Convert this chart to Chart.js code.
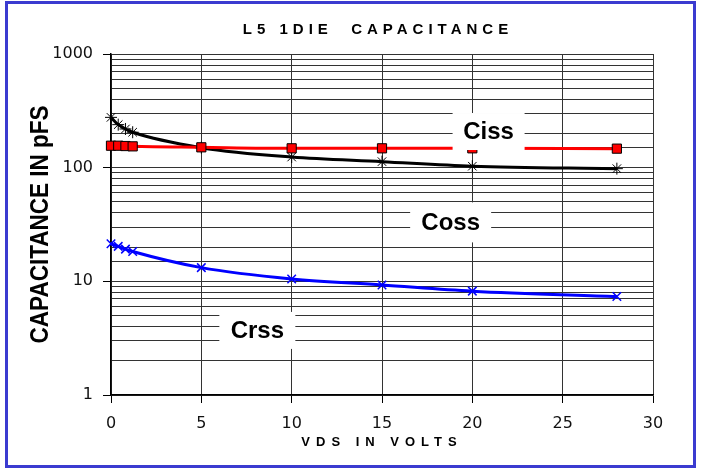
<!DOCTYPE html>
<html>
<head>
<meta charset="utf-8">
<script src="https://cdn.jsdelivr.net/npm/chart.js@4.4.1/dist/chart.umd.min.js"></script>
<style>
  html, body { margin: 0; padding: 0; background: #fff; }
  #wrap { width: 701px; height: 472px; }
</style>
</head>
<body>
<div id="wrap"><canvas id="cap-chart" width="701" height="472"></canvas></div>
<script>
// values
var vds = [0, 0.4, 0.8, 1.2, 5, 10, 15, 20, 28];
var ciss = [156, 156, 155, 154, 151, 148, 148, 148, 147];
var coss = [277, 239, 219, 205, 150, 124, 113, 103, 98];
var crss = [21.4, 20.3, 19.2, 18.3, 13.2, 10.5, 9.3, 8.2, 7.35];
var xTicks = [0, 5, 10, 15, 20, 25, 30];
var yLabels = [1, 10, 100, 1000];

var chartTitle = 'L5 1DIE  CAPACITANCE';
var xTitle = 'VDS IN VOLTS';
var yTitle = 'CAPACITANCE IN pFS';

// series name boxes, placed in data coordinates
var tags = [
	{ text: 'Ciss', x: 20.9, y: 208, w: 72, h: 37 },
	{ text: 'Coss', x: 18.8, y: 33, w: 81, h: 40 },
	{ text: 'Crss', x: 8.1, y: 3.7, w: 76, h: 37 },
];

function pts(ys) {
	return vds.map((v, i) => ({ x: v, y: ys[i] }));
}

var decorations = {
	id: 'decorations',
	beforeDraw(chart) {
		var c = chart.ctx;
		c.save();
		c.fillStyle = '#fff';
		c.fillRect(0, 0, chart.width, chart.height);
		c.restore();
	},
	afterDatasetsDraw(chart) {
		var c = chart.ctx;
		var sx = chart.scales.x, sy = chart.scales.y;
		c.save();
		c.font = 'bold 24px "Liberation Sans", Arial, sans-serif';
		c.textAlign = 'center';
		c.textBaseline = 'middle';
		tags.forEach(t => {
			var px = sx.getPixelForValue(t.x), py = sy.getPixelForValue(t.y);
			c.fillStyle = '#fff';
			c.fillRect(px - t.w / 2, py - t.h / 2, t.w, t.h);
			c.fillStyle = '#000';
			c.fillText(t.text, px, py + 1);
		});
		c.restore();
	},
	afterDraw(chart) {
		var c = chart.ctx;
		var a = chart.chartArea;
		var mid = (a.left + a.right) / 2;
		c.save();
		c.fillStyle = '#000';
		c.textAlign = 'center';
		c.textBaseline = 'middle';
		c.letterSpacing = '5px';
		c.font = 'bold 15px "Liberation Sans", Arial, sans-serif';
		c.fillText(chartTitle, mid - 4, 30);
		c.letterSpacing = '6px';
		c.font = 'bold 13px "Liberation Sans", Arial, sans-serif';
		c.fillText(xTitle, mid, 442);
		c.letterSpacing = '0px';
		c.translate(41, (a.top + a.bottom) / 2);
		c.rotate(-Math.PI / 2);
		c.scale(0.9, 1);
		c.font = 'bold 25px "Liberation Sans", Arial, sans-serif';
		c.fillText(yTitle, 0, 0);
		c.restore();

		// blue frame round the whole picture
		c.save();
		c.strokeStyle = '#3b3bd0';
		c.lineWidth = 3;
		c.strokeRect(6.5, 2.5, 688, 464);
		c.restore();
	}
};

new Chart(document.getElementById('cap-chart'), {
	type: 'line',
	data: {
		datasets: [{
			label: 'Ciss',
			data: pts(ciss),
			borderColor: '#ff0000',
			borderWidth: 3,
			pointStyle: 'rect',
			pointRadius: 6.5,
			pointBackgroundColor: '#ff0000',
			pointBorderColor: '#000',
			pointBorderWidth: 1,
			cubicInterpolationMode: 'monotone',
			clip: false,
		}, {
			label: 'Coss',
			data: pts(coss),
			borderColor: '#000',
			borderWidth: 3,
			pointStyle: 'star',
			pointRadius: 6,
			pointBorderColor: '#000',
			pointBorderWidth: 1,
			cubicInterpolationMode: 'monotone',
			clip: false,
		}, {
			label: 'Crss',
			data: pts(crss),
			borderColor: '#0000ff',
			borderWidth: 3,
			pointStyle: 'crossRot',
			pointRadius: 6,
			pointBorderColor: '#0000ff',
			pointBorderWidth: 1.5,
			cubicInterpolationMode: 'monotone',
			clip: false,
		}],
	},
	options: {
		responsive: false,
		animation: false,
		events: [],
		layout: {
			padding: { top: 54, right: 48, left: 0, bottom: 0 }
		},
		plugins: {
			legend: { display: false },
			tooltip: { enabled: false },
			title: { display: false },
		},
		scales: {
			x: {
				type: 'linear',
				min: 0,
				max: 30,
				afterFit: s => { s.height = 77; },
				afterBuildTicks: s => { s.ticks = xTicks.map(v => ({ value: v })); },
				ticks: {
					color: '#111',
					font: { family: '"DejaVu Sans", sans-serif', size: 16 },
					padding: 11,
					maxRotation: 0,
				},
				grid: {
					color: '#333',
					lineWidth: 1,
					tickLength: 8,
					tickColor: '#000',
				},
				border: { color: '#000', width: 1.5 },
			},
			y: {
				type: 'logarithmic',
				min: 1,
				max: 1000,
				afterFit: s => { s.width = 111; },
				ticks: {
					autoSkip: false,
					color: '#111',
					font: { family: '"DejaVu Sans", sans-serif', size: 16 },
					padding: 10,
					callback: v => yLabels.includes(v) ? String(v) : '',
				},
				grid: {
					color: '#333',
					lineWidth: 1,
					tickLength: 8,
					tickColor: ctx => (ctx.tick && yLabels.includes(ctx.tick.value)) ? '#000' : 'rgba(0,0,0,0)',
				},
				border: { color: '#000', width: 1.5 },
			},
		},
	},
	plugins: [decorations],
});
</script>
</body>
</html>
